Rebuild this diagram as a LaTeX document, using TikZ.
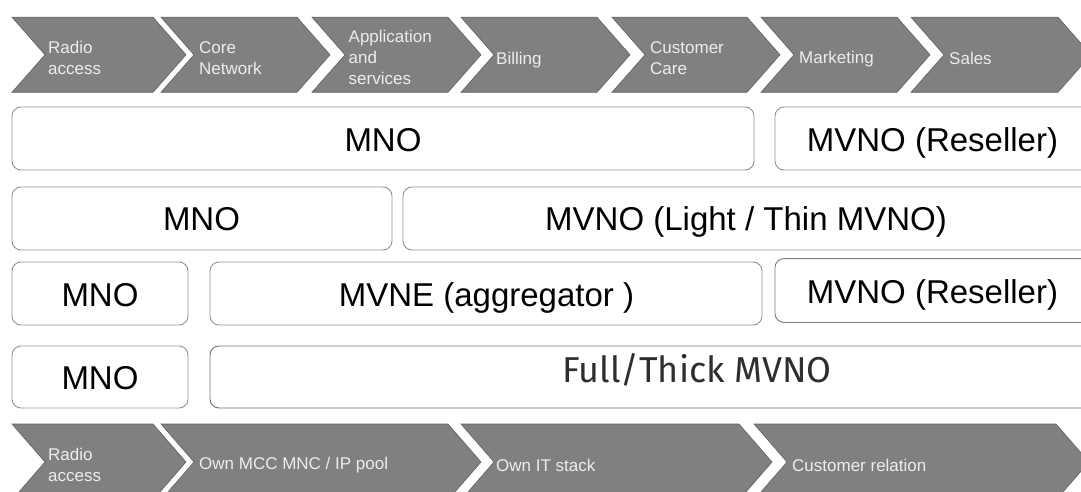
\documentclass[tikz,border=0pt]{standalone}
\usepackage{fontspec}
\setmainfont{Liberation Sans}
\newfontfamily\firafont{Fira Sans}

\begin{document}
\begin{tikzpicture}[x=1pt,y=1pt,
	chev/.style={fill=black!50, draw=black!62, line width=0.6pt},
	chevtext/.style={anchor=west, text=black!7, align=left, font=\fontsize{17}{21}\selectfont},
	role/.style={draw=black!42, line width=0.9pt, rounded corners=9pt},
	rolename/.style={font=\fontsize{33}{40}\selectfont, text height=23.6pt, text depth=0pt}]
	\tikzstyle{every node}+=[inner sep=0pt]
	\clip (0,0) rectangle (1081,-492);
	% value chain, top
	\draw [chev] (12,-17.2) -- (153,-17.2) -- (186,-54.8) -- (153,-92.3) -- (12,-92.3) -- (45,-54.8) -- cycle;
	\draw (48,-58) node [chevtext] (radio) {Radio\\access};
	\draw [chev] (161,-17.2) -- (297,-17.2) -- (330,-54.8) -- (297,-92.3) -- (161,-92.3) -- (194,-54.8) -- cycle;
	\draw (199,-58) node [chevtext] (core) {Core\\Network};
	\draw [chev] (312,-17.2) -- (448,-17.2) -- (481,-54.8) -- (448,-92.3) -- (312,-92.3) -- (345,-54.8) -- cycle;
	\draw (348.5,-57.5) node [chevtext] (apps) {Application\\and\\services};
	\draw [chev] (461,-17.2) -- (597,-17.2) -- (630,-54.8) -- (597,-92.3) -- (461,-92.3) -- (494,-54.8) -- cycle;
	\draw (496,-60) node [chevtext] (billing) {Billing};
	\draw [chev] (612,-17.2) -- (747,-17.2) -- (780,-54.8) -- (747,-92.3) -- (612,-92.3) -- (645,-54.8) -- cycle;
	\draw (650,-58) node [chevtext] (care) {Customer\\Care};
	\draw [chev] (761,-17.2) -- (897,-17.2) -- (930,-54.8) -- (897,-92.3) -- (761,-92.3) -- (794,-54.8) -- cycle;
	\draw (799,-58.7) node [chevtext] (marketing) {Marketing};
	\draw [chev] (911,-17.2) -- (1058,-17.2) -- (1091,-54.8) -- (1058,-92.3) -- (911,-92.3) -- (944,-54.8) -- cycle;
	\draw (949,-58.7) node [chevtext] (sales) {Sales};
	% operator rows
	\draw [role] (12,-107) rectangle (754,-170);
	\draw (383,-140) node [rolename] (mnoA) {MNO};
	\draw [role] (775,-107) rectangle (1110,-170);
	\draw (932.5,-140) node [rolename] (resellerA) {MVNO (Reseller)};
	\draw [role] (12,-187) rectangle (392,-250);
	\draw (201.5,-219) node [rolename] (mnoB) {MNO};
	\draw [role] (403,-187) rectangle (1110,-250);
	\draw (746,-219) node [rolename] (light) {MVNO (Light / Thin MVNO)};
	\draw [role] (12,-262) rectangle (188,-325);
	\draw (100,-295) node [rolename] (mnoC) {MNO};
	\draw [role] (210,-262) rectangle (762,-325);
	\draw (486.5,-295) node [rolename] (mvne) {MVNE (aggregator )};
	\draw [role, draw=black!52] (775,-258.6) rectangle (1110,-322.5);
	\draw (932.5,-291.4) node [rolename] (resellerC) {MVNO (Reseller)};
	\draw [role] (12,-346) rectangle (188,-408);
	\draw (100,-377.4) node [rolename] (mnoD) {MNO};
	\draw [role, draw=black!55] (210,-346) rectangle (1110,-408);
	\draw (697,-370) node [rolename, font=\firafont\fontsize{36}{42}\selectfont, text height=25pt, text=black!82] (full) {Full/Thick MVNO};
	% value chain, bottom
	\draw [chev] (12,-424) -- (153,-424) -- (186,-462) -- (153,-500) -- (12,-500) -- (45,-462) -- cycle;
	\draw (48,-464.5) node [chevtext] (radioB) {Radio\\access};
	\draw [chev] (161,-424) -- (448,-424) -- (481,-462) -- (448,-500) -- (161,-500) -- (194,-462) -- cycle;
	\draw (199,-465) node [chevtext] (mccmnc) {Own MCC MNC / IP pool};
	\draw [chev] (461,-424) -- (739,-424) -- (772,-462) -- (739,-500) -- (461,-500) -- (494,-462) -- cycle;
	\draw (496,-465) node [chevtext] (itstack) {Own IT stack};
	\draw [chev] (754,-424) -- (1056,-424) -- (1089,-462) -- (1056,-500) -- (754,-500) -- (787,-462) -- cycle;
	\draw (792,-465) node [chevtext] (relation) {Customer relation};
\end{tikzpicture}
\end{document}
